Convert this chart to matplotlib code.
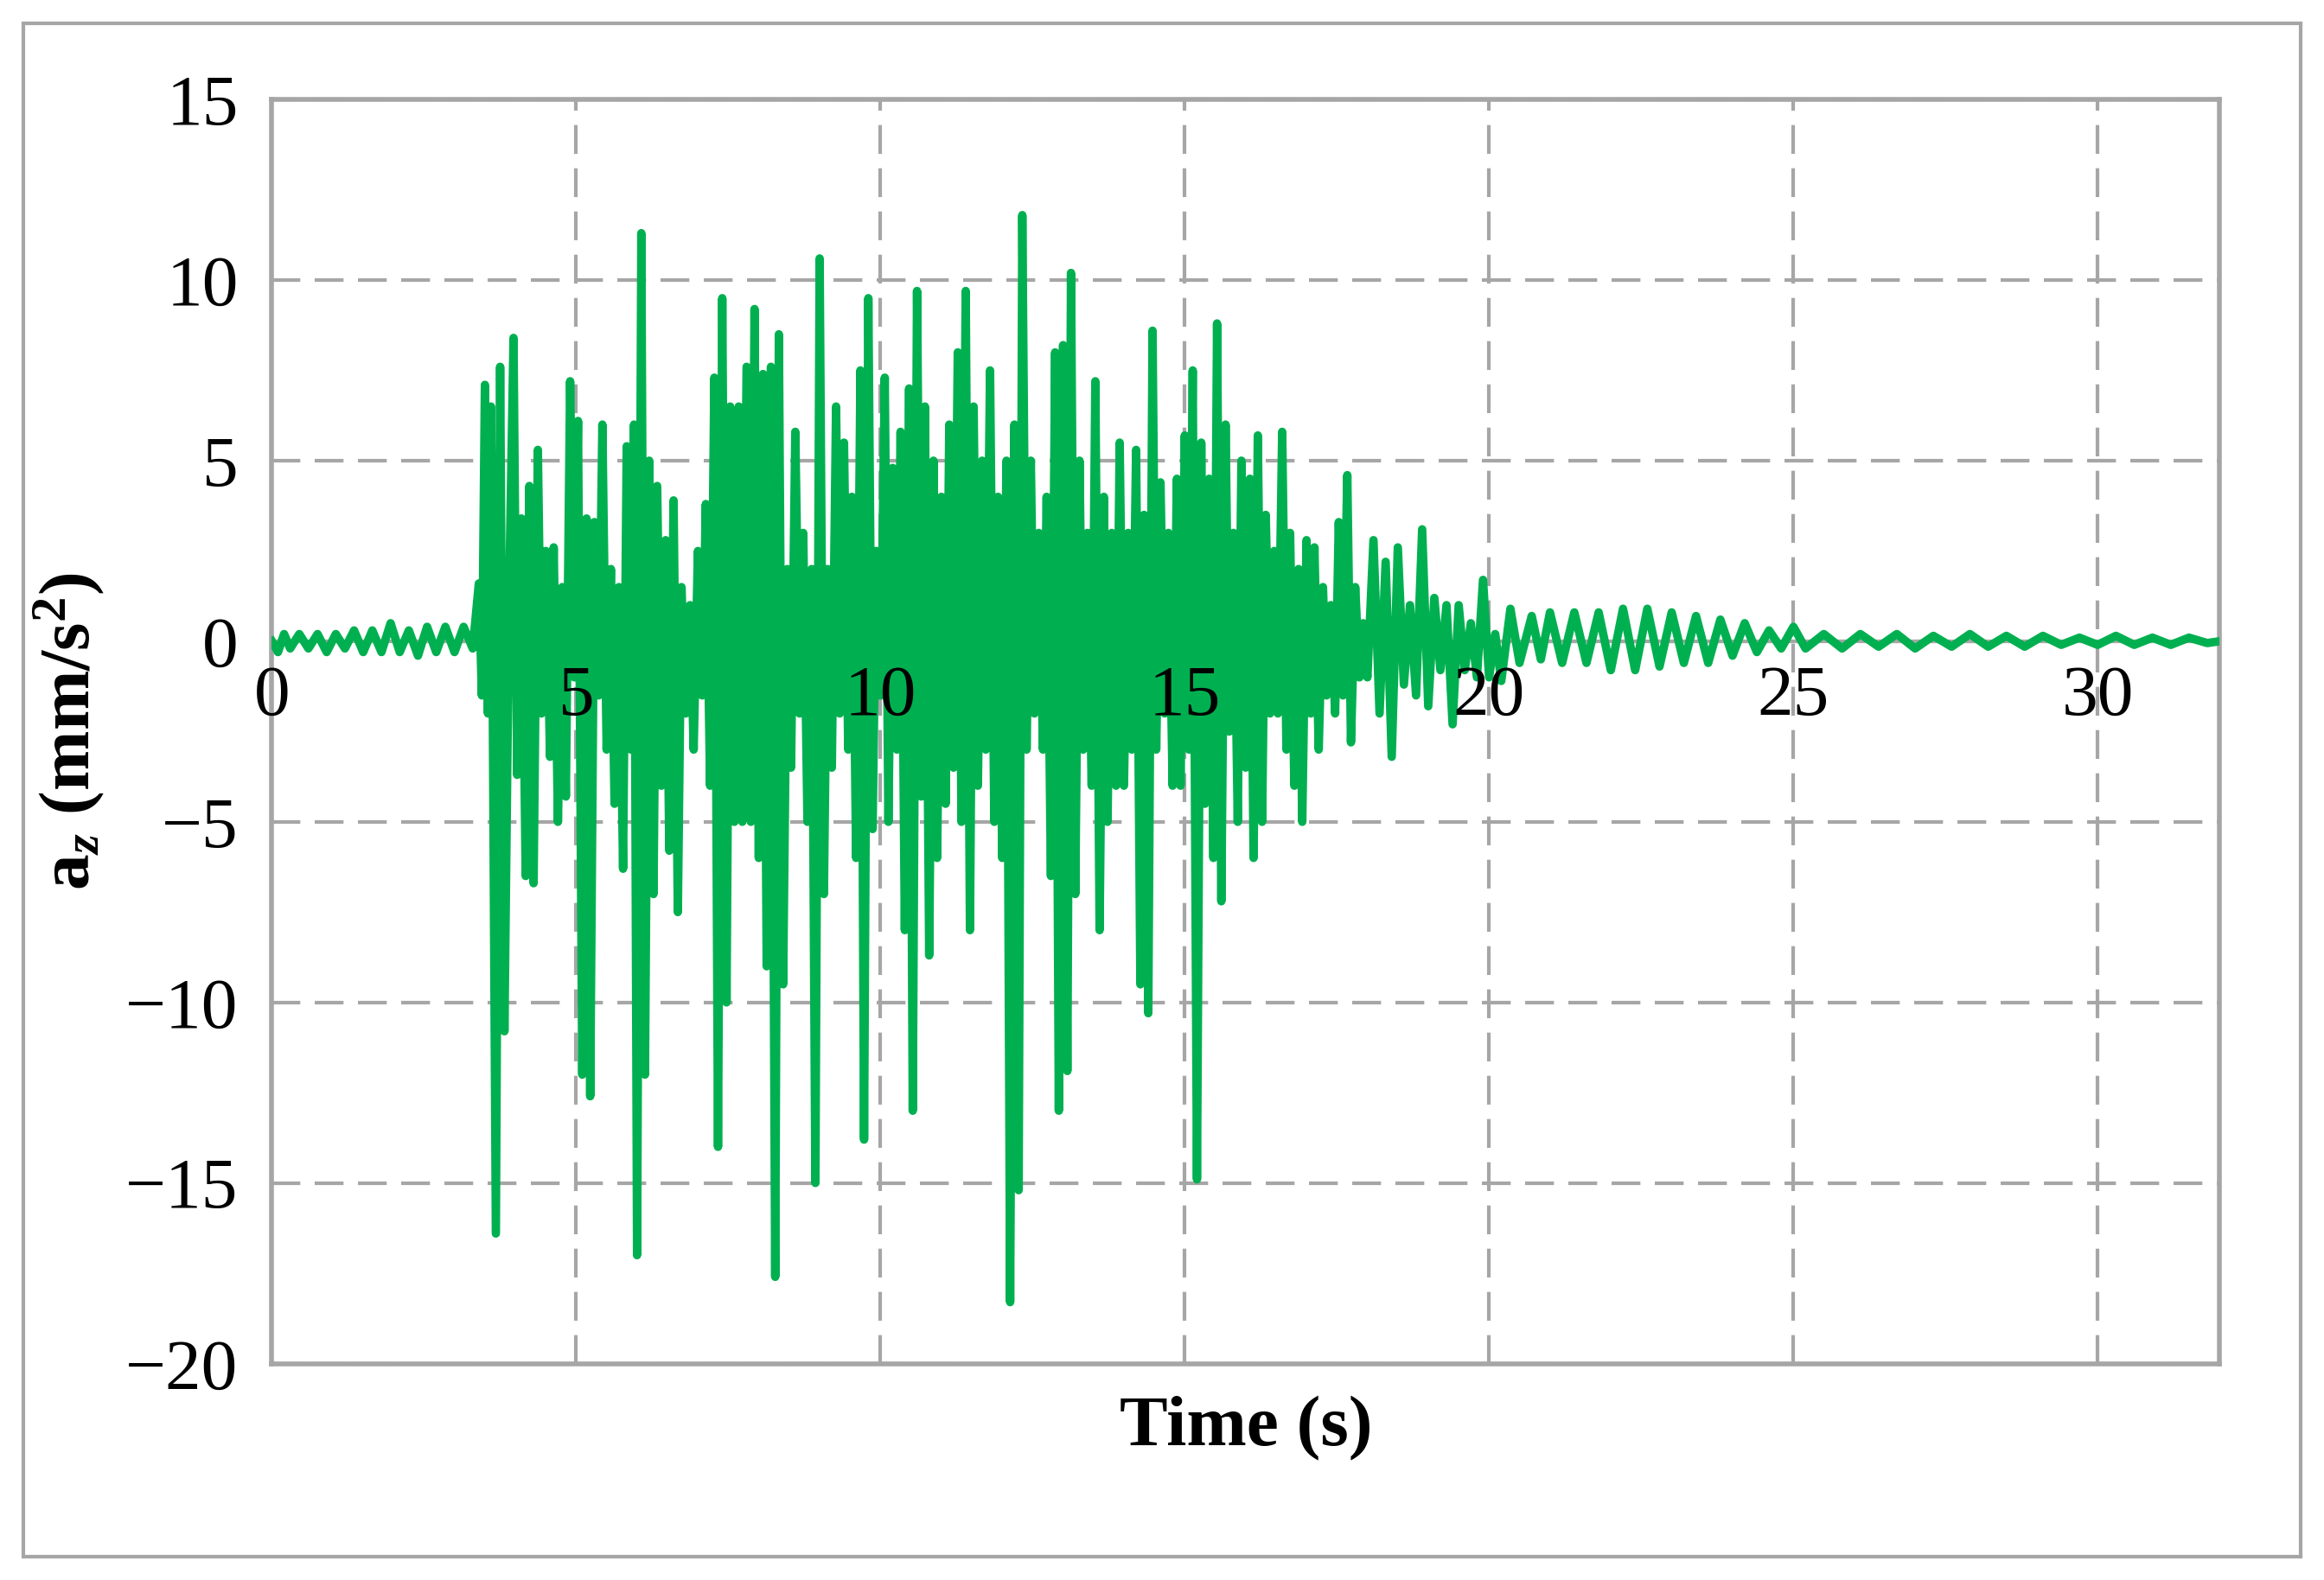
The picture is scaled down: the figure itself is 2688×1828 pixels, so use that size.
import matplotlib.pyplot as plt
from matplotlib.patches import Rectangle

plt.rcParams['font.family'] = ['Liberation Serif', 'DejaVu Serif']
plt.rcParams['mathtext.fontset'] = 'custom'
plt.rcParams['mathtext.rm'] = 'Liberation Serif'
plt.rcParams['mathtext.bf'] = 'Liberation Serif:bold'
plt.rcParams['mathtext.it'] = 'Liberation Serif:italic'
plt.rcParams['mathtext.bfit'] = 'Liberation Serif:bold:italic'

# (time, acceleration) at the turning points of the record
peaks = [
    (0, 0), (0.1, -0.3), (0.2, 0.2), (0.3, -0.2), (0.45, 0.2), (0.6, -0.2), (0.75, 0.2), (0.9, -0.3),
    (1.05, 0.2), (1.2, -0.2), (1.35, 0.3), (1.5, -0.3), (1.65, 0.3), (1.8, -0.3), (1.95, 0.5), (2.1, -0.3),
    (2.25, 0.3), (2.4, -0.4), (2.55, 0.4), (2.7, -0.3), (2.85, 0.4), (3.0, -0.3), (3.15, 0.4), (3.3, -0.2),
    (3.4, 1.6), (3.45, -1.5), (3.5, 7.1), (3.55, -2), (3.6, 6.5), (3.68, -16.4), (3.75, 7.6), (3.82, -10.8),
    (3.9, 1.5), (3.97, 8.4), (4.03, -3.7), (4.1, 3.4), (4.17, -6.5), (4.23, 4.3), (4.3, -6.7), (4.37, 5.3),
    (4.43, -2), (4.5, 2.5), (4.57, -3.2), (4.63, 2.6), (4.7, -5), (4.77, 1.5), (4.83, -4.3), (4.9, 7.2),
    (4.97, -1), (5.03, 6.1), (5.1, -12), (5.17, 3.4), (5.23, -12.6), (5.3, 3.3), (5.37, -1.5), (5.43, 6),
    (5.5, -3), (5.57, 2), (5.63, -4.5), (5.7, 1.5), (5.77, -6.3), (5.83, 5.4), (5.9, -3), (5.95, 6),
    (6.0, -17), (6.07, 11.3), (6.13, -12), (6.2, 5), (6.27, -7), (6.33, 4.3), (6.4, -4), (6.47, 2.8),
    (6.53, -5.8), (6.6, 3.9), (6.67, -7.5), (6.73, 1.5), (6.8, -2), (6.87, 1), (6.93, -3), (7.0, 2.5),
    (7.07, -1.5), (7.13, 3.8), (7.2, -4), (7.27, 7.3), (7.33, -14), (7.4, 9.5), (7.47, -10), (7.53, 6.5),
    (7.6, -5), (7.67, 6.5), (7.73, -5), (7.8, 7.6), (7.87, -5), (7.93, 9.2), (8.0, -6), (8.07, 7.4),
    (8.13, -9), (8.2, 7.6), (8.27, -17.6), (8.33, 8.5), (8.4, -9.5), (8.47, 2), (8.53, -3.5), (8.6, 5.8),
    (8.67, -2), (8.73, 3), (8.8, -5), (8.87, 2), (8.93, -15), (9.0, 10.6), (9.07, -7), (9.13, 2),
    (9.2, -3.5), (9.27, 6.5), (9.33, -2), (9.4, 5.5), (9.47, -3), (9.53, 4), (9.6, -6), (9.67, 7.5),
    (9.73, -13.8), (9.8, 9.5), (9.87, -5.2), (9.93, 2.5), (10.0, -1.5), (10.07, 7.3), (10.13, -5), (10.2, 4.8),
    (10.27, -3), (10.33, 5.8), (10.4, -8), (10.47, 7), (10.53, -13), (10.6, 9.7), (10.67, -4.3), (10.73, 6.5),
    (10.8, -8.7), (10.87, 5), (10.93, -6), (11.0, 4), (11.07, -4.5), (11.13, 6), (11.2, -3.5), (11.27, 8),
    (11.33, -5), (11.4, 9.7), (11.47, -8), (11.53, 6.5), (11.6, -4), (11.67, 5), (11.73, -3), (11.8, 7.5),
    (11.87, -5), (11.93, 4), (12.0, -6), (12.07, 5), (12.13, -18.3), (12.2, 6), (12.27, -15.2), (12.33, 11.8),
    (12.4, -3), (12.47, 5), (12.53, -2), (12.6, 3), (12.67, -3), (12.73, 4), (12.8, -6.5), (12.87, 8),
    (12.93, -13), (13.0, 8.2), (13.07, -11.9), (13.13, 10.2), (13.2, -7), (13.27, 5), (13.33, -3), (13.4, 3),
    (13.47, -4), (13.53, 7.2), (13.6, -8), (13.67, 4), (13.73, -5), (13.8, 3), (13.87, -4), (13.93, 5.5),
    (14.0, -4), (14.07, 3), (14.13, -3), (14.2, 5.3), (14.27, -9.5), (14.33, 3.5), (14.4, -10.3), (14.47, 8.6),
    (14.53, -3), (14.6, 4.4), (14.67, -2), (14.73, 3), (14.8, -4), (14.87, 4.5), (14.93, -4), (15.0, 5.7),
    (15.07, -3), (15.13, 7.5), (15.2, -14.9), (15.27, 5.5), (15.33, -4.5), (15.4, 4.5), (15.47, -6), (15.53, 8.8),
    (15.6, -7.2), (15.67, 6), (15.73, -2.5), (15.8, 3), (15.87, -5), (15.93, 5), (16.0, -3.5), (16.07, 4.5),
    (16.13, -6), (16.2, 5.7), (16.27, -5), (16.33, 3.5), (16.4, -2), (16.47, 2.5), (16.53, -2), (16.6, 5.8),
    (16.67, -3), (16.73, 3), (16.8, -4), (16.87, 2), (16.93, -5), (17.0, 2.8), (17.07, -2), (17.13, 2.6),
    (17.2, -3), (17.27, 1.5), (17.33, -1.5), (17.4, 1), (17.47, -2), (17.53, 3.3), (17.6, -1.5), (17.67, 4.6),
    (17.73, -2.8), (17.8, 1.5), (17.87, -1), (17.93, 0.5), (18.0, -1), (18.1, 2.8), (18.2, -2), (18.3, 2.2),
    (18.4, -3.2), (18.5, 2.6), (18.6, -1.2), (18.7, 1), (18.8, -1.5), (18.9, 3.1), (19.0, -1.8), (19.1, 1.2),
    (19.2, -0.8), (19.3, 1), (19.4, -2.3), (19.5, 1), (19.6, -0.8), (19.7, 0.5), (19.8, -1), (19.9, 1.7),
    (20.0, -1), (20.1, 0.2), (20.2, -1.1), (20.35, 0.9), (20.5, -0.6), (20.7, 0.7), (20.85, -0.5), (21.0, 0.8),
    (21.2, -0.6), (21.4, 0.8), (21.6, -0.6), (21.8, 0.8), (22.0, -0.8), (22.2, 0.9), (22.4, -0.8), (22.6, 0.9),
    (22.8, -0.7), (23.0, 0.8), (23.2, -0.6), (23.4, 0.7), (23.6, -0.6), (23.8, 0.6), (24.0, -0.4), (24.2, 0.5),
    (24.4, -0.3), (24.6, 0.3), (24.8, -0.2), (25.0, 0.4), (25.2, -0.2), (25.5, 0.2), (25.8, -0.2), (26.1, 0.2),
    (26.4, -0.15), (26.7, 0.2), (27.0, -0.2), (27.3, 0.15), (27.6, -0.15), (27.9, 0.2), (28.2, -0.15), (28.5, 0.15),
    (28.8, -0.15), (29.1, 0.15), (29.4, -0.1), (29.7, 0.1), (30.0, -0.1), (30.3, 0.15), (30.6, -0.1), (30.9, 0.1),
    (31.2, -0.1), (31.5, 0.1), (31.8, -0.05), (32.0, 0.0),
]
time_s = [p[0] for p in peaks]
az = [p[1] for p in peaks]

x_ticks = [0, 5, 10, 15, 20, 25, 30]
y_ticks = [-20, -15, -10, -5, 0, 5, 10, 15]
grey = '#A6A6A6'

fig = plt.figure(figsize=(13.44, 9.14), dpi=200)
ax = fig.add_axes([0.117, 0.137, 0.838, 0.8])
fig.patches.append(Rectangle((0.01, 0.015), 0.98, 0.97, transform=fig.transFigure,
                             fill=False, edgecolor=grey, linewidth=1.5))

ax.plot(time_s, az, color='#00B050', linewidth=3.5, zorder=3)

ax.set_xlim(0, 32)
ax.set_ylim(-20, 15)
ax.set_xticks(x_ticks)
ax.set_yticks(y_ticks)
ax.grid(True, color=grey, linestyle=(0, (8, 4)), linewidth=1.5)
ax.axhline(0, color=grey, linewidth=1.5, zorder=2)
for s in ax.spines.values():
    s.set_color(grey)
    s.set_linewidth(2)
ax.tick_params(length=0)
ax.set_xticklabels([])
ax.set_yticklabels([str(v).replace('-', '\u2212') for v in y_ticks], fontsize=30)
ax.tick_params(axis='y', pad=14)
for t in x_ticks:
    ax.annotate(str(t), (t, 0), xytext=(0, -10), textcoords='offset points',
                ha='center', va='top', fontsize=30)

ax.set_xlabel('Time (s)', fontsize=30, fontweight='bold', labelpad=10)
ax.set_ylabel(r'$\mathbf{a}_{\mathbfit{z}}$ (mm/s$^{\mathbf{2}}$)', fontsize=30,
              fontweight='bold', labelpad=8)

fig.savefig('out.png', dpi=200, facecolor='white')
